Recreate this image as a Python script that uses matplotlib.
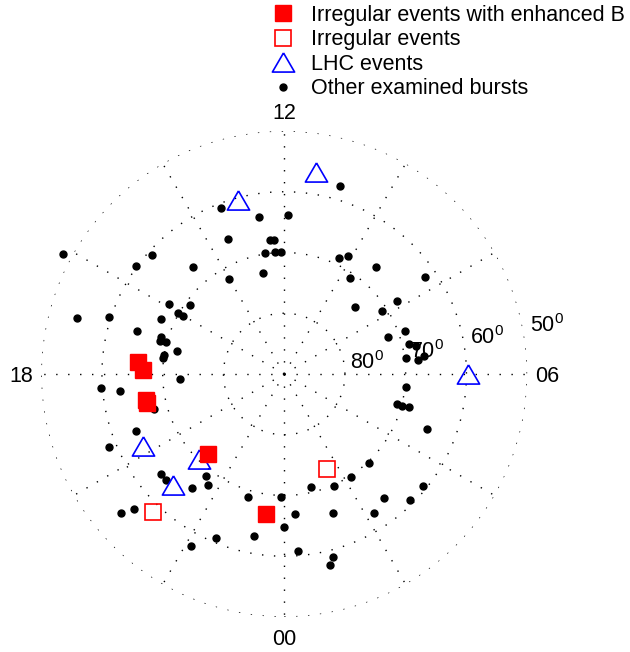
"""Polar MLT / MLAT map of the examined bursts (MATLAB-style polar dial)."""
import numpy as np
import matplotlib
matplotlib.use('Agg')
import matplotlib.pyplot as plt
from matplotlib.lines import Line2D

plt.rcParams['font.family'] = ['Liberation Sans', 'DejaVu Sans']
plt.rcParams['mathtext.fontset'] = 'custom'
plt.rcParams['mathtext.rm'] = 'Liberation Sans'
plt.rcParams['mathtext.it'] = 'Liberation Sans:italic'
plt.rcParams['lines.scale_dashes'] = False

# ---- data: magnetic local time (h) and magnetic latitude (deg) ----
enh_mlt = [17.7, 17.9, 18.7, 18.8, 21.1, 23.5]
enh_lat = [65.8, 66.8, 66.8, 66.9, 71.8, 66.7]

irr_mlt = [21.1, 1.6]
irr_lat = [58.7, 72.8]

lhc_mlt = [13.0, 11.4, 6.0, 19.8, 21.0, 21.0]
lhc_lat = [60.4, 56.3, 59.8, 64.0, 70.1, 64.1]

oth_mlt = [16.1, 13.4, 12.6, 11.9, 13.5, 12.4, 12.3, 12.6, 12.3, 12.1, 15.2, 15.6,
           14.7, 14.0, 12.8, 15.9, 16.0, 16.0, 15.6, 17.0, 16.8, 16.4, 16.9, 16.9,
           17.0, 17.0, 17.2, 17.4, 17.5, 18.2, 10.9, 10.3, 10.1, 9.3, 9.7, 8.3,
           8.2, 8.9, 8.2, 7.3, 7.3, 6.9, 6.8, 6.5, 6.4, 6.5, 18.3, 18.4, 19.0,
           19.4, 19.5, 20.6, 20.8, 21.5, 21.7, 21.4, 22.9, 23.9, 0.9, 20.7, 20.8,
           0.3, 24.0, 22.5, 23.3, 22.1, 0.3, 5.6, 5.0, 5.0, 5.0, 4.6, 2.9, 2.2,
           1.6, 3.4, 2.6, 3.0, 1.3, 2.2, 1.0, 0.9]
oth_lat = [48.6, 60.8, 63.8, 63.9, 65.9, 67.9, 67.9, 69.9, 69.9, 69.9, 60.8, 59.8,
           66.8, 71.9, 73.0, 67.8, 69.8, 70.8, 70.8, 54.7, 59.7, 67.8, 64.8, 68.8,
           68.8, 69.8, 71.9, 69.9, 69.8, 72.9, 57.8, 68.9, 67.9, 66.8, 70.9, 61.8,
           67.9, 73.9, 70.9, 68.9, 71.9, 68.8, 67.9, 69.8, 67.9, 66.8, 59.8, 62.8,
           67.8, 63.8, 58.8, 63.8, 63.8, 68.8, 67.8, 65.8, 68.8, 69.8, 70.8, 54.7,
           56.7, 66.8, 64.8, 60.7, 62.8, 57.7, 60.8, 69.8, 70.8, 69.9, 68.8, 64.8,
           69.8, 69.8, 69.8, 60.7, 63.8, 60.7, 65.8, 62.8, 58.8, 57.7]

ring_lats = [80, 70, 60, 50]
hour_labels = ['00', '06', '12', '18']
hour_vals = [0, 6, 12, 18]


def th(mlt):
    return np.radians(np.asarray(mlt) * 15.0)


def colat(lat):
    return 90.0 - np.asarray(lat)


fig = plt.figure(figsize=(6.30, 6.52), dpi=100)
ax = fig.add_axes([0.0654, 0.0537, 0.7714, 0.7454], projection='polar')
ax.set_theta_zero_location('S')
ax.set_theta_direction(1)
ax.set_rlim(0, 40)
ax.grid(False)
ax.set_xticks([])
ax.set_yticks([])
ax.spines['polar'].set_visible(False)

dots = (0, (1.0, 7.6))
full = np.linspace(0, 2 * np.pi, 400)
for lat in ring_lats:
    ax.plot(full, np.full_like(full, 90 - lat), ls=dots, lw=1.0, c='k',
            dash_capstyle='butt')
for a in np.arange(0, 360, 30):
    ax.plot([np.radians(a), np.radians(a)], [0, 40], ls=dots, lw=1.0, c='k',
            dash_capstyle='butt')

# ring labels
ring_pos = [(4.3, 10.86), (7.25, 20.87), (9.1, 30.97), (9.7, 41.05)]
for lat, (alpha, rr) in zip(ring_lats, ring_pos):
    ax.text(np.radians(90 + alpha), rr, r'$\mathrm{%d^0}$' % lat, fontsize=15.5,
            ha='left', va='baseline', clip_on=False)

for h, lab in zip(hour_vals, hour_labels):
    ax.text(th(h), 43.3, lab, fontsize=15.5, ha='center', va='center_baseline',
            clip_on=False)

tri = [(0, 0.86), (-1, -0.86), (1, -0.86), (0, 0.86)]

ax.plot(th(oth_mlt), colat(oth_lat), 'o', ms=5, c='k', clip_on=False)
ax.plot(th(lhc_mlt), colat(lhc_lat), ls='none', marker=tri, ms=16, mfc='none',
        mec='blue', mew=1.2, clip_on=False)
ax.plot(th(irr_mlt), colat(irr_lat), 's', ms=11.5, mfc='none', mec='red',
        mew=1.2, clip_on=False)
ax.plot(th(enh_mlt), colat(enh_lat), 's', ms=11.5, mfc='red', mec='red',
        clip_on=False)

handles = [
    Line2D([], [], ls='none', marker='s', ms=11.5, mfc='red', mec='red'),
    Line2D([], [], ls='none', marker='s', ms=11.5, mfc='none', mec='red', mew=1.2),
    Line2D([], [], ls='none', marker=tri, ms=16, mfc='none', mec='blue', mew=1.2),
    Line2D([], [], ls='none', marker='o', ms=5, c='k'),
]
labels = ['Irregular events with enhanced B', 'Irregular events', 'LHC events',
          'Other examined bursts']
fig.legend(handles, labels, loc='upper left',
           bbox_to_anchor=(272 / 630, 647 / 652), fontsize=15.5, frameon=False,
           handlelength=1.0, handletextpad=0.8, borderpad=0, borderaxespad=0,
           labelspacing=0.16)

fig.savefig('out.png', dpi=100)
